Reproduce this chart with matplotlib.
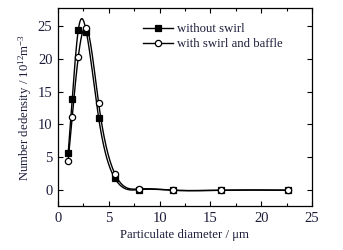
import numpy as np
import matplotlib
matplotlib.use('Agg')
import matplotlib.pyplot as plt

plt.rcParams['font.family'] = ['Liberation Serif', 'DejaVu Serif']
plt.rcParams['mathtext.fontset'] = 'custom'
plt.rcParams['mathtext.rm'] = 'Liberation Serif'
plt.rcParams['mathtext.it'] = 'Liberation Serif:italic'

# data
diameter = [1.0, 1.4, 2.0, 2.8, 4.0, 5.6, 8.0, 11.3, 16.0, 22.6]
without_swirl = [5.6, 13.9, 24.4, 24.0, 11.0, 1.8, 0.1, 0.0, 0.0, 0.0]
with_swirl = [4.5, 11.2, 20.3, 24.7, 13.2, 2.5, 0.2, 0.0, 0.0, 0.0]

labels = ['without swirl', 'with swirl and baffle']
text_color = '#1c1c3a'


def natural_spline(x, y, n=400):
    # natural cubic spline through the measured points, for the smooth line
    x = np.asarray(x, float)
    y = np.asarray(y, float)
    h = np.diff(x)
    m = len(x)
    A = np.zeros((m, m))
    b = np.zeros(m)
    A[0, 0] = A[-1, -1] = 1
    for i in range(1, m - 1):
        A[i, i - 1] = h[i - 1]
        A[i, i] = 2 * (h[i - 1] + h[i])
        A[i, i + 1] = h[i]
        b[i] = 6 * ((y[i + 1] - y[i]) / h[i] - (y[i] - y[i - 1]) / h[i - 1])
    M = np.linalg.solve(A, b)
    xs = np.linspace(x[0], x[-1], n)
    idx = np.clip(np.searchsorted(x, xs) - 1, 0, m - 2)
    x0, x1 = x[idx], x[idx + 1]
    hh = x1 - x0
    t0 = x1 - xs
    t1 = xs - x0
    ys = (M[idx] * t0 ** 3 + M[idx + 1] * t1 ** 3) / (6 * hh) \
        + (y[idx] / hh - M[idx] * hh / 6) * t0 \
        + (y[idx + 1] / hh - M[idx + 1] * hh / 6) * t1
    return xs, ys


fig = plt.figure(figsize=(3.43, 2.5), dpi=100)
ax = fig.add_axes([58 / 343, 1 - 206 / 250, (312 - 58) / 343, (206 - 8) / 250])

for ys, mfc, lab in [(without_swirl, 'black', labels[0]), (with_swirl, 'white', labels[1])]:
    sx, sy = natural_spline(diameter, ys)
    ax.plot(sx, sy, color='black', lw=1.0)
    ax.plot(diameter, ys, ls='none', marker='s' if mfc == 'black' else 'o',
            ms=4.5, mfc=mfc, mec='black', mew=0.9)
    ax.plot([], [], color='black', lw=1.0, marker='s' if mfc == 'black' else 'o',
            ms=4.5, mfc=mfc, mec='black', mew=0.9, label=lab)

ax.set_xlim(0, 25)
ax.set_ylim(-2.4, 27.7)
ax.set_xticks([0, 5, 10, 15, 20, 25])
ax.set_xticks(np.arange(0, 25.1, 2.5), minor=True)
ax.set_yticks([0, 5, 10, 15, 20, 25])
ax.tick_params(which='both', direction='in', top=True, right=True,
               labelsize=10.5, labelcolor=text_color, width=0.8)
ax.tick_params(which='major', length=3.5, pad=4)
ax.tick_params(which='minor', length=2)
for s in ax.spines.values():
    s.set_linewidth(0.9)

ax.set_xlabel('Particulate diameter / μm', fontsize=9.2, color=text_color, labelpad=3)
ax.set_ylabel('Number dedensity / 10$^{12}$m$^{-3}$', fontsize=9.2, color=text_color, labelpad=3)

leg = ax.legend(loc='upper right', bbox_to_anchor=(0.905, 0.95), frameon=False,
                fontsize=9.2, handlelength=2.4, handletextpad=0.3,
                labelspacing=0.25, borderaxespad=0.0)
for t in leg.get_texts():
    t.set_color(text_color)

fig.savefig('out.png', dpi=100)
